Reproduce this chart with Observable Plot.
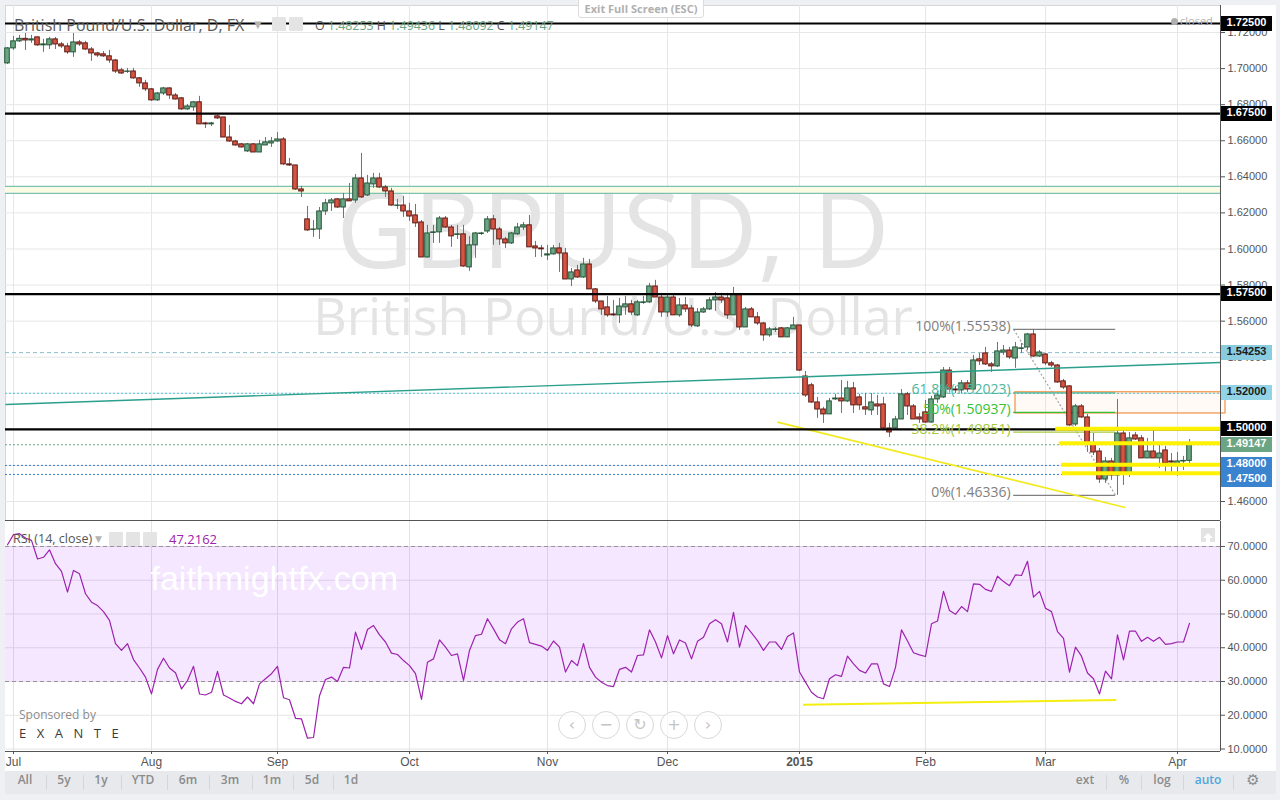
<!DOCTYPE html>
<html>
<head>
<meta charset="utf-8">
<script src="https://cdn.jsdelivr.net/npm/d3@7"></script>
<script src="https://cdn.jsdelivr.net/npm/@observablehq/plot@0.6"></script>
<style>
html,body{margin:0;padding:0;background:#eef0f3;}
#root{position:relative;width:1280px;height:800px;overflow:hidden;font-family:"Open Sans",sans-serif;background:#eef0f3;}
#sheet{position:absolute;left:5px;top:5px;width:1271px;height:766px;background:#fff;}
.abs{position:absolute;white-space:nowrap;}
.tag{position:absolute;left:1221px;width:51px;height:15px;line-height:15px;text-align:center;font:bold 11px "Liberation Sans",Arial,sans-serif;}
.ico{position:absolute;width:14px;height:14px;background:#e4e4e4;border-radius:1px;}
.nav{position:absolute;width:26px;height:26px;border:1px solid #d8d8d8;border-radius:50%;background:rgba(255,255,255,0.7);color:#c4c4c4;font:16px "DejaVu Sans",sans-serif;text-align:center;line-height:25px;}
#toolbar{position:absolute;left:5px;top:771px;width:1271px;height:23px;background:#e7e9ed;}
.tb{position:absolute;top:0;height:23px;line-height:23px;font:600 12px "Open Sans",sans-serif;color:#8b8b8b;transform:translateX(-50%);}
.sep{position:absolute;top:4px;width:1px;height:15px;background:#d3d6db;}
</style>
</head>
<body>
<div id="root">
  <div id="sheet"></div>
  <div id="main" class="abs" style="left:0;top:0"></div>
  <div id="rsiPane" class="abs" style="left:0;top:520px"></div>
  <div id="overlay"></div>
  <div id="toolbar"></div>
</div>
<script>
// ---------------- data ----------------
const monthIdx = [1, 24, 45, 67, 90, 110, 132, 153, 173, 195];
const monthLabels = ["Jul", "Aug", "Sep", "Oct", "Nov", "Dec", "2015", "Feb", "Mar", "Apr"];
const priceTicks = [1.46, 1.48, 1.50, 1.52, 1.54, 1.56, 1.58, 1.60, 1.62, 1.64, 1.66, 1.68, 1.70, 1.72];
const rsiTicks = [10, 20, 30, 40, 50, 60, 70];
const rsiBands = [30, 70];

// daily GBPUSD candles [open, high, low, close], late Jun 2014 -> 3 Apr 2015
const ohlc = [
[1.7029,1.7117,1.7023,1.7112],[1.7112,1.7178,1.7101,1.7151],[1.7151,1.7184,1.7145,1.7165],[1.7165,1.7195,1.7101,1.7156],
[1.7156,1.7184,1.7140,1.7162],[1.7173,1.7176,1.7123,1.7129],[1.7129,1.7162,1.7090,1.7134],[1.7129,1.7173,1.7106,1.7162],
[1.7162,1.7173,1.7106,1.7134],[1.7134,1.7145,1.7112,1.7123],[1.7123,1.7140,1.7079,1.7090],[1.7090,1.7195,1.7062,1.7145],
[1.7145,1.7156,1.7123,1.7134],[1.7140,1.7151,1.7101,1.7106],[1.7106,1.7117,1.7040,1.7084],[1.7084,1.7090,1.7062,1.7073],
[1.7079,1.7095,1.7062,1.7068],[1.7068,1.7101,1.7029,1.7045],[1.7045,1.7051,1.6973,1.6984],[1.6990,1.7001,1.6968,1.6973],
[1.6982,1.7001,1.6973,1.6984],[1.6984,1.7001,1.6940,1.6946],[1.6946,1.6951,1.6896,1.6918],[1.6918,1.6935,1.6873,1.6885],
[1.6885,1.6890,1.6818,1.6824],[1.6824,1.6868,1.6818,1.6862],[1.6862,1.6896,1.6851,1.6890],[1.6890,1.6893,1.6829,1.6851],
[1.6851,1.6862,1.6826,1.6829],[1.6835,1.6840,1.6768,1.6774],[1.6774,1.6801,1.6768,1.6790],[1.6785,1.6818,1.6763,1.6813],
[1.6813,1.6846,1.6691,1.6691],[1.6696,1.6702,1.6668,1.6691],[1.6691,1.6702,1.6679,1.6696],[1.6735,1.6740,1.6718,1.6724],
[1.6729,1.6729,1.6618,1.6618],[1.6618,1.6685,1.6591,1.6596],[1.6596,1.6602,1.6569,1.6574],[1.6580,1.6585,1.6560,1.6563],
[1.6541,1.6585,1.6535,1.6580],[1.6580,1.6585,1.6535,1.6535],[1.6535,1.6602,1.6535,1.6580],[1.6574,1.6618,1.6574,1.6591],
[1.6585,1.6618,1.6563,1.6596],[1.6596,1.6646,1.6591,1.6607],[1.6607,1.6618,1.6463,1.6469],[1.6469,1.6502,1.6458,1.6463],
[1.6463,1.6463,1.6325,1.6330],[1.6330,1.6347,1.6286,1.6319],[1.6164,1.6236,1.6097,1.6103],[1.6106,1.6158,1.6064,1.6108],
[1.6108,1.6230,1.6053,1.6208],[1.6208,1.6275,1.6186,1.6253],[1.6253,1.6280,1.6208,1.6269],[1.6275,1.6280,1.6225,1.6230],
[1.6230,1.6308,1.6169,1.6275],[1.6275,1.6363,1.6264,1.6264],[1.6269,1.6413,1.6253,1.6391],[1.6391,1.6530,1.6280,1.6286],
[1.6297,1.6408,1.6291,1.6363],[1.6358,1.6419,1.6336,1.6391],[1.6391,1.6419,1.6336,1.6341],[1.6341,1.6352,1.6286,1.6319],
[1.6319,1.6336,1.6236,1.6241],[1.6239,1.6275,1.6219,1.6241],[1.6241,1.6291,1.6175,1.6208],[1.6208,1.6253,1.6153,1.6180],
[1.6186,1.6247,1.6119,1.6142],[1.6147,1.6158,1.5953,1.5953],[1.5953,1.6131,1.5950,1.6086],[1.6089,1.6131,1.6031,1.6092],
[1.6092,1.6180,1.6031,1.6169],[1.6169,1.6180,1.6114,1.6119],[1.6119,1.6131,1.6009,1.6070],[1.6078,1.6131,1.6053,1.6081],
[1.6081,1.6131,1.5898,1.5903],[1.5898,1.6069,1.5876,1.6020],[1.6020,1.6092,1.5948,1.6086],[1.6083,1.6092,1.6075,1.6086],
[1.6097,1.6180,1.6086,1.6164],[1.6164,1.6186,1.6020,1.6108],[1.6108,1.6119,1.6020,1.6053],[1.6053,1.6064,1.6003,1.6031],
[1.6031,1.6092,1.6025,1.6086],[1.6081,1.6142,1.6075,1.6119],[1.6119,1.6147,1.6103,1.6131],[1.6131,1.6186,1.6009,1.6009],
[1.6014,1.6042,1.5953,1.6003],[1.6003,1.6020,1.5953,1.5998],[1.5964,1.6020,1.5936,1.5970],[1.5970,1.6020,1.5966,1.6003],
[1.6003,1.6031,1.5870,1.5975],[1.5975,1.6003,1.5831,1.5831],[1.5831,1.5892,1.5792,1.5870],[1.5881,1.5909,1.5837,1.5842],
[1.5842,1.5948,1.5837,1.5914],[1.5914,1.5942,1.5776,1.5776],[1.5776,1.5781,1.5698,1.5709],[1.5709,1.5709,1.5632,1.5665],
[1.5676,1.5737,1.5621,1.5632],[1.5637,1.5715,1.5626,1.5632],[1.5632,1.5726,1.5587,1.5681],[1.5676,1.5737,1.5632,1.5693],
[1.5693,1.5715,1.5632,1.5648],[1.5632,1.5715,1.5626,1.5704],[1.5701,1.5737,1.5693,1.5704],[1.5704,1.5809,1.5698,1.5792],
[1.5792,1.5826,1.5731,1.5731],[1.5731,1.5754,1.5621,1.5648],[1.5648,1.5743,1.5621,1.5731],[1.5731,1.5743,1.5632,1.5632],
[1.5632,1.5726,1.5621,1.5687],[1.5687,1.5731,1.5648,1.5665],[1.5670,1.5687,1.5565,1.5576],[1.5571,1.5670,1.5565,1.5648],
[1.5648,1.5676,1.5643,1.5665],[1.5665,1.5731,1.5659,1.5715],[1.5715,1.5759,1.5654,1.5731],[1.5731,1.5754,1.5698,1.5715],
[1.5726,1.5754,1.5610,1.5632],[1.5632,1.5787,1.5632,1.5748],[1.5748,1.5748,1.5548,1.5565],[1.5565,1.5676,1.5565,1.5665],
[1.5665,1.5676,1.5621,1.5621],[1.5621,1.5648,1.5576,1.5587],[1.5587,1.5593,1.5488,1.5521],[1.5521,1.5565,1.5510,1.5554],
[1.5551,1.5565,1.5537,1.5554],[1.5560,1.5565,1.5510,1.5510],[1.5510,1.5565,1.5510,1.5560],[1.5554,1.5621,1.5554,1.5576],
[1.5576,1.5576,1.5321,1.5326],[1.5293,1.5321,1.5177,1.5188],[1.5244,1.5255,1.5144,1.5149],[1.5149,1.5177,1.5061,1.5110],
[1.5110,1.5122,1.5033,1.5083],[1.5083,1.5171,1.5083,1.5155],[1.5166,1.5194,1.5160,1.5171],[1.5171,1.5271,1.5088,1.5155],
[1.5155,1.5266,1.5149,1.5227],[1.5227,1.5260,1.5088,1.5133],[1.5177,1.5194,1.5105,1.5133],[1.5122,1.5199,1.5077,1.5110],
[1.5105,1.5199,1.5077,1.5149],[1.5138,1.5188,1.5077,1.5127],[1.5138,1.5177,1.4994,1.5005],[1.5005,1.5033,1.4955,1.4983],
[1.5005,1.5072,1.4994,1.5055],[1.5055,1.5221,1.5055,1.5194],[1.5194,1.5205,1.5077,1.5127],[1.5127,1.5138,1.5055,1.5055],
[1.5066,1.5088,1.5033,1.5055],[1.5094,1.5160,1.5033,1.5038],[1.5038,1.5183,1.5033,1.5166],[1.5166,1.5210,1.5144,1.5188],
[1.5177,1.5343,1.5171,1.5326],[1.5326,1.5343,1.5205,1.5221],[1.5221,1.5238,1.5199,1.5216],[1.5216,1.5271,1.5199,1.5255],
[1.5255,1.5271,1.5205,1.5221],[1.5221,1.5410,1.5216,1.5382],[1.5388,1.5421,1.5354,1.5377],[1.5421,1.5454,1.5354,1.5360],
[1.5360,1.5371,1.5316,1.5349],[1.5349,1.5482,1.5343,1.5432],[1.5426,1.5465,1.5410,1.5437],[1.5437,1.5454,1.5388,1.5399],
[1.5393,1.5482,1.5338,1.5454],[1.5446,1.5476,1.5421,1.5449],[1.5454,1.5532,1.5437,1.5526],[1.5526,1.5554,1.5399,1.5404],
[1.5404,1.5437,1.5399,1.5426],[1.5415,1.5421,1.5354,1.5366],[1.5366,1.5377,1.5343,1.5354],[1.5354,1.5360,1.5255,1.5260],
[1.5266,1.5277,1.5221,1.5232],[1.5238,1.5243,1.5016,1.5022],[1.5027,1.5138,1.5016,1.5127],[1.5127,1.5138,1.5061,1.5066],
[1.5066,1.5083,1.4872,1.4922],[1.4922,1.4977,1.4855,1.4872],[1.4877,1.4894,1.4700,1.4722],[1.4722,1.4844,1.4700,1.4822],
[1.4822,1.4839,1.4717,1.4744],[1.4744,1.5166,1.4634,1.4977],[1.4977,1.4994,1.4689,1.4750],[1.4750,1.4983,1.4733,1.4950],
[1.4966,1.4983,1.4938,1.4944],[1.4950,1.4966,1.4839,1.4839],[1.4839,1.4950,1.4839,1.4877],[1.4877,1.4994,1.4839,1.4839],
[1.4839,1.4916,1.4783,1.4866],[1.4883,1.4905,1.4761,1.4811],[1.4822,1.4866,1.4761,1.4816],[1.4805,1.4872,1.4739,1.4822],
[1.4822,1.4850,1.4772,1.4825],[1.48253,1.49436,1.48092,1.49147]
];

// RSI(14, close), one value per candle
const rsi = [
70.5,73.5,73.8,72.5,71.8,66.3,66.8,69.0,64.9,62.6,56.5,62.9,61.9,56.0,53.5,52.5,50.7,48.1,41.2,39.2,
41.2,36.5,34.0,31.3,26.3,33.6,36.9,34.0,32.6,27.8,30.3,34.5,26.3,26.0,26.8,33.0,26.0,25.1,24.1,23.4,
25.4,23.4,29.3,30.8,32.3,34.5,25.2,24.6,19.1,18.9,13.2,13.4,25.8,30.6,31.3,30.0,34.2,34.0,44.6,39.5,
45.4,46.6,43.8,41.7,38.4,38.0,36.2,34.7,32.3,24.7,35.7,36.7,42.3,40.2,37.7,38.2,30.3,39.2,43.6,44.0,
48.6,45.6,42.4,41.2,45.6,47.6,48.6,41.5,41.0,40.5,39.2,42.0,40.2,32.8,36.2,34.7,41.2,34.2,31.3,29.8,
28.8,28.5,33.6,34.2,32.8,37.7,37.9,45.3,41.7,37.0,43.6,38.2,42.3,41.4,36.7,41.9,43.1,47.1,48.3,47.1,
41.7,50.5,40.2,46.6,44.4,42.1,39.2,41.7,41.7,39.5,43.3,44.4,32.8,29.8,26.8,25.4,24.9,30.8,32.0,31.5,
37.5,35.2,33.3,32.5,35.2,35.2,29.3,28.5,34.2,45.3,42.0,38.5,37.9,37.4,47.1,47.9,56.7,51.0,49.9,52.2,
50.7,58.9,58.8,57.3,56.7,61.2,59.6,58.4,61.6,61.4,65.6,55.0,56.7,51.7,50.7,44.8,42.8,32.8,40.2,37.5,
32.5,30.8,26.3,33.1,30.8,43.8,36.4,44.9,44.9,41.9,43.1,41.9,43.1,41.0,41.2,41.7,41.7,47.2162
];

// horizontal drawings (price levels)
const keyLevels = [1.725, 1.675, 1.575, 1.50];
const zoneBand = [{lo: 1.6308, hi: 1.6347}];
const dashedLevels = [
  {p: 1.54253, color: "#8cbccb", dash: "4,3"},
  {p: 1.52000, color: "#4cc3da", dash: "2,2"},
  {p: 1.49147, color: "#6ba583", dash: "2,2"},
  {p: 1.48000, color: "#3a7fcc", dash: "2,2"},
  {p: 1.47500, color: "#3a7fcc", dash: "2,2"}
];
const yellowLevels = [
  {p: 1.5003, from: 174.7}, {p: 1.4923, from: 175.3},
  {p: 1.4804, from: 175.7}, {p: 1.4756, from: 175.8}
];
const trendLines = [
  {i1: -0.33, p1: 1.5138, i2: 202.17, p2: 1.5371, color: "#2a9f8c", w: 1.4},
  {i1: 128.3, p1: 1.5040, i2: 186.3, p2: 1.4567, color: "#f2ea1f", w: 1.6}
];
const fibFrom = 167.7, fibTo = 184.7;
const fibHigh = 1.55538, fibLow = 1.46336;
const fibLevels = [
  {pct: "100%", p: 1.55538, color: "#7f7f7f"},
  {pct: "61.8%", p: 1.52023, color: "#4db69c"},
  {pct: "50%", p: 1.50937, color: "#36bf36"},
  {pct: "38.2%", p: 1.49851, color: "#a6c93c"},
  {pct: "0%", p: 1.46336, color: "#7f7f7f"}
];
const orangeBox = [{i1: 168.0, i2: 203.0, lo: 1.5088, hi: 1.5206}];
const rsiTrend = [{i1: 132.6, v1: 23.1, i2: 184.8, v2: 24.5}];
const priceTags = [
  {p: 1.725, bg: "#000", fg: "#fff"}, {p: 1.675, bg: "#000", fg: "#fff"},
  {p: 1.575, bg: "#000", fg: "#fff"}, {p: 1.54253, bg: "#89cce0", fg: "#1b1b1b"},
  {p: 1.52, bg: "#92d3e6", fg: "#1b1b1b"}, {p: 1.50, bg: "#000", fg: "#fff"},
  {p: 1.49147, bg: "#6ba583", fg: "#fff"}, {p: 1.48, bg: "#3a83cf", fg: "#fff"},
  {p: 1.475, bg: "#3a83cf", fg: "#fff"}
];
const lastBar = {o: "1.48253", h: "1.49436", l: "1.48092", c: "1.49147"};
const rsiLast = "47.2162";

// ---------------- scales ----------------
const xDomain = [-0.333, 202.167];
const priceDomain = [1.44947, 1.73498];
const rsiDomain = [9.26, 77.4];

const bars = ohlc.map(([o, h, l, c], i) => ({i, o, h, l, c, up: c >= o}));
const axisFont = '"Liberation Sans", Arial, sans-serif';

const main = Plot.plot({
  width: 1280, height: 521,
  marginLeft: 5, marginRight: 60, marginTop: 5, marginBottom: 1,
  style: {background: "transparent", fontFamily: axisFont, color: "#555", overflow: "visible"},
  x: {domain: xDomain, axis: null},
  y: {domain: priceDomain},
  color: {type: "identity"},
  marks: [
    Plot.frame({stroke: "#d6d6d6"}),
    Plot.ruleY(priceTicks, {stroke: "#e7e7e7"}),
    Plot.ruleX(monthIdx, {stroke: "#e7e7e7"}),
    Plot.text(["GBPUSD, D"], {frameAnchor: "top", lineAnchor: "top", dy: 187, fontSize: 106, fill: "#e4e4e4", fontFamily: "Open Sans"}),
    Plot.text(["British Pound/U.S. Dollar"], {frameAnchor: "top", lineAnchor: "top", dy: 293, fontSize: 52, fill: "#e4e4e4", fontFamily: "Open Sans"}),
    Plot.rect(zoneBand, {x1: () => xDomain[0], x2: () => xDomain[1], y1: "lo", y2: "hi", fill: "#fbfbe3"}),
    Plot.ruleY(zoneBand, {y: "lo", stroke: "#7cc2b4", strokeWidth: 1.4}),
    Plot.ruleY(zoneBand, {y: "hi", stroke: "#7cc2b4", strokeWidth: 1.4}),
    ...dashedLevels.map(d => Plot.ruleY([d.p], {stroke: d.color, strokeDasharray: d.dash, strokeWidth: 1})),
    Plot.rect(orangeBox, {x1: "i1", x2: "i2", y1: "lo", y2: "hi", fill: "#ff9a3c", fillOpacity: 0.05, stroke: "#f3a668", strokeWidth: 1.5}),
    Plot.link([{}], {x1: fibFrom, y1: fibHigh, x2: fibTo, y2: fibLow, stroke: "#a8a8a8", strokeDasharray: "2,2", strokeWidth: 1.3}),
    Plot.ruleY(fibLevels, {y: "p", x1: fibFrom, x2: fibTo, stroke: "color", strokeWidth: 1.2}),
    // candles
    Plot.ruleX(bars, {x: "i", y1: "l", y2: "h", stroke: "#737375", strokeWidth: 1}),
    Plot.rect(bars, {x1: d => d.i - 0.38, x2: d => d.i + 0.38, y1: "o", y2: "c",
      fill: d => d.up ? "#6ba583" : "#d75442", stroke: d => d.up ? "#225437" : "#5b1a13", strokeWidth: 1}),
    Plot.link(trendLines, {x1: "i1", y1: "p1", x2: "i2", y2: "p2", stroke: "color", strokeWidth: "w"}),
    Plot.ruleY(keyLevels, {stroke: "#000", strokeWidth: 2.2}),
    Plot.ruleY(yellowLevels, {y: "p", x1: "from", x2: () => 203.0, stroke: "#fff200", strokeWidth: 4}),
    Plot.text(fibLevels, {x: fibFrom, y: "p", text: d => `${d.pct}(${d.p.toFixed(5)})`, textAnchor: "end", dx: -3, dy: -3,
      fill: "color", fontSize: 14, fontFamily: "Open Sans"}),
    Plot.axisY(priceTicks, {anchor: "right", tickFormat: d => d.toFixed(5), tickSize: 4, tickPadding: 3, fontSize: 11, label: null, color: "#555"}),
    Plot.ruleX([xDomain[1]], {stroke: "#555"}),
    Plot.ruleY([priceDomain[0]], {stroke: "#555"})
  ]
});
document.getElementById("main").appendChild(main);

const rsiData = rsi.map((v, i) => ({i, v}));
const rsiPlot = Plot.plot({
  width: 1280, height: 250,
  marginLeft: 5, marginRight: 60, marginTop: 1, marginBottom: 19,
  style: {background: "transparent", fontFamily: axisFont, color: "#555", overflow: "visible"},
  x: {domain: xDomain},
  y: {domain: rsiDomain},
  marks: [
    Plot.ruleY(rsiTicks, {stroke: "#e4e4e4"}),
    Plot.ruleX(monthIdx, {stroke: "#e4e4e4"}),
    Plot.rect([{}], {x1: () => xDomain[0], x2: () => xDomain[1], y1: () => rsiBands[0], y2: () => rsiBands[1], fill: "#9915ff", fillOpacity: 0.1}),
    Plot.ruleY(rsiBands, {stroke: "#9a8e9c", strokeDasharray: "4,3"}),
    Plot.text(["faithmightfx.com"], {frameAnchor: "top-left", lineAnchor: "top", textAnchor: "start", dx: 145, dy: 44, fontSize: 34, fill: "#ffffff", fontFamily: "Liberation Sans"}),
    Plot.link(rsiTrend, {x1: "i1", y1: "v1", x2: "i2", y2: "v2", stroke: "#f4ee10", strokeWidth: 2}),
    Plot.line(rsiData, {x: "i", y: "v", stroke: "#9d22ad", strokeWidth: 1.2}),
    Plot.axisY(rsiTicks, {anchor: "right", tickFormat: d => d.toFixed(4), tickSize: 4, tickPadding: 3, fontSize: 11, label: null, color: "#555"}),
    Plot.axisX(monthIdx, {anchor: "bottom", tickFormat: i => monthLabels[monthIdx.indexOf(i)], tickSize: 3, tickPadding: 3, fontSize: 12, label: null, color: "#555"}),
    Plot.ruleX([xDomain[1]], {stroke: "#555"}),
    Plot.ruleY([rsiDomain[0]], {stroke: "#555"})
  ]
});
document.getElementById("rsiPane").appendChild(rsiPlot);
d3.select(rsiPlot).selectAll("text").filter(function () { return this.textContent === "2015"; }).attr("font-weight", "bold");

// ---------------- overlays ----------------
const ov = document.getElementById("overlay");
function add(html) { ov.insertAdjacentHTML("beforeend", html); }

// price tags on the right axis, placed with the plot's own y scale
const ys = main.scale("y");
let prevBottom = -Infinity;
priceTags.map(t => ({...t, y: ys.apply(t.p)})).sort((a, b) => a.y - b.y).forEach(t => {
  let top = t.y - 7.5;
  if (top < prevBottom) top = prevBottom;
  prevBottom = top + 15;
  add(`<div class="tag" style="top:${top}px;background:${t.bg};color:${t.fg}">${t.p.toFixed(5)}</div>`);
});

// header
add(`<div class="abs" style="left:14px;top:14px;font:16px 'Open Sans';color:#5a5a5a">British Pound/U.S. Dollar, D, FX</div>`);
add(`<div class="abs" style="left:254px;top:19px;font:10px 'DejaVu Sans';color:#b5b5b5">▼</div>`);
add(`<div class="ico" style="left:272px;top:17px"></div><div class="ico" style="left:289px;top:17px"></div>`);
add(`<div class="abs" style="left:315px;top:17px;font:12.4px 'Open Sans';color:#555">O <span style="color:#6ba583">${lastBar.o}</span> H <span style="color:#6ba583">${lastBar.h}</span> L <span style="color:#6ba583">${lastBar.l}</span> C <span style="color:#6ba583">${lastBar.c}</span></div>`);
add(`<div class="abs" style="left:1171px;top:18px;width:7px;height:7px;border-radius:50%;background:#b0b0b0"></div>`);
add(`<div class="abs" style="left:1180px;top:13px;font:11px 'Open Sans';color:#b3b3b3">closed</div>`);
add(`<div class="abs" style="left:578px;top:-3px;width:124px;height:19px;background:#fff;border:1px solid #dcdcdc;border-radius:3px;text-align:center;font:bold 11px 'Open Sans';line-height:21px;color:#b0b0b0">Exit Full Screen (ESC)</div>`);

// RSI header
add(`<div class="abs" style="left:13px;top:530px;font:12.5px 'Open Sans';color:#555">RSI (14, close)</div>`);
add(`<div class="abs" style="left:95px;top:534px;font:9px 'DejaVu Sans';color:#b5b5b5">▼</div>`);
add(`<div class="ico" style="left:109px;top:532px"></div><div class="ico" style="left:126px;top:532px"></div><div class="ico" style="left:143px;top:532px"></div>`);
add(`<div class="abs" style="left:169px;top:530px;font:13px 'Open Sans';color:#9d22ad">${rsiLast}</div>`);
add(`<div class="abs" style="left:1201px;top:528px;width:14px;height:14px;background:#e3e3e3"><svg width="14" height="14"><path d="M7 2 L12 7 H9 V12 H5 V7 H2 Z" fill="#fff"/></svg></div>`);

// sponsor
add(`<div class="abs" style="left:19px;top:706px;font:12px 'Open Sans';color:#8c8c8c">Sponsored by</div>`);
add(`<div class="abs" style="left:19px;top:724px;font:13px 'Open Sans';letter-spacing:10.5px;color:#3b3b3b">EXANTE</div>`);

// navigation buttons
["‹", "−", "↻", "+", "›"].forEach((g, j) => {
  const cx = [572, 606, 640, 674, 708][j];
  add(`<div class="nav" style="left:${cx - 14}px;top:711px">${g}</div>`);
});

// bottom toolbar
const tb = document.getElementById("toolbar");
const leftBtns = [["All", 20], ["5y", 59], ["1y", 96], ["YTD", 138], ["6m", 183], ["3m", 225], ["1m", 267], ["5d", 307], ["1d", 346]];
leftBtns.forEach(([t, x]) => tb.insertAdjacentHTML("beforeend", `<div class="tb" style="left:${x}px">${t}</div>`));
[41, 78, 116, 162, 204, 247, 288, 328].forEach(x => tb.insertAdjacentHTML("beforeend", `<div class="sep" style="left:${x}px"></div>`));
const rightBtns = [["ext", 1080, "#8b8b8b"], ["%", 1119, "#8b8b8b"], ["log", 1157, "#8b8b8b"], ["auto", 1203, "#4fa6dc"]];
rightBtns.forEach(([t, x, c]) => tb.insertAdjacentHTML("beforeend", `<div class="tb" style="left:${x}px;color:${c}">${t}</div>`));
[1101, 1136, 1178, 1228].forEach(x => tb.insertAdjacentHTML("beforeend", `<div class="sep" style="left:${x}px"></div>`));
tb.insertAdjacentHTML("beforeend", `<div class="tb" style="left:1248px;font:15px 'DejaVu Sans'">⚙</div>`);
</script>
</body>
</html>
